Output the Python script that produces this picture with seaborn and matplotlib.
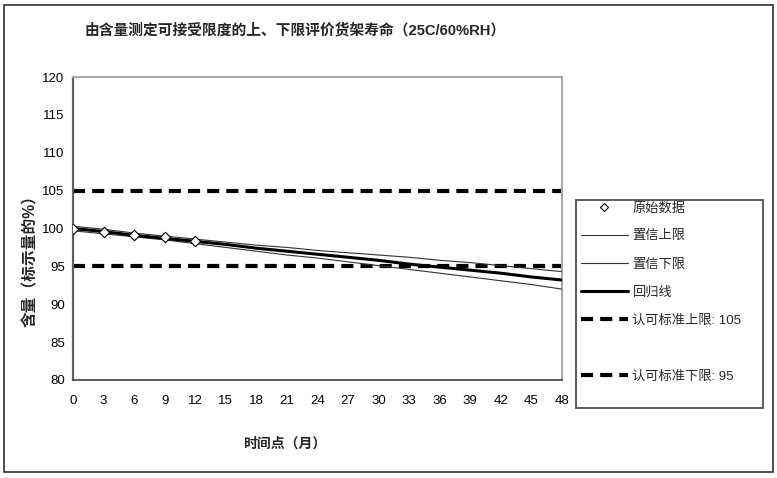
import matplotlib
matplotlib.use("Agg")
import matplotlib.pyplot as plt
import seaborn as sns
import pandas as pd
from matplotlib.lines import Line2D
from matplotlib.patches import Rectangle

# ---- data ----
raw_months = [0, 3, 6, 9, 12]
raw_values = [100.0, 99.6, 99.1, 98.9, 98.4]

months = [0, 3, 6, 9, 12, 15, 18, 21, 24, 27, 30, 33, 36, 39, 42, 45, 48]
regression = [100.0, 99.6, 99.1, 98.7, 98.3, 97.9, 97.4, 97.0, 96.6, 96.2, 95.8, 95.3, 94.9, 94.5, 94.1, 93.6, 93.2]
upper_ci = [100.3, 99.9, 99.4, 99.0, 98.6, 98.2, 97.8, 97.5, 97.1, 96.8, 96.5, 96.2, 95.8, 95.5, 95.1, 94.7, 94.3]
lower_ci = [99.7, 99.3, 98.9, 98.5, 98.0, 97.5, 97.0, 96.5, 96.1, 95.6, 95.1, 94.6, 94.1, 93.6, 93.1, 92.6, 92.0]
spec_upper = 105
spec_lower = 95

title = "由含量测定可接受限度的上、下限评价货架寿命（25C/60%RH）"
xlabel = "时间点（月）"
ylabel = "含量（标示量的%）"
legend_labels = ["原始数据", "置信上限", "置信下限", "回归线", "认可标准上限: 105", "认可标准下限: 95"]
xticks = list(range(0, 49, 3))
yticks = list(range(80, 121, 5))

sns.set_style("white")
plt.rcParams['font.family'] = ['Liberation Sans', 'Noto Sans CJK SC', 'DejaVu Sans']

df_raw = pd.DataFrame({"t": raw_months, "v": raw_values})
df_line = pd.DataFrame({"t": months, "reg": regression, "up": upper_ci, "lo": lower_ci})

W, H = 777, 478
fig = plt.figure(figsize=(W/100, H/100), dpi=100)
ax = fig.add_axes([73/W, 1-380/H, (562-73)/W, (380-77)/H])

dash = (2.9, 1.7)
ax.axhline(spec_upper, color="black", lw=3, dashes=dash, zorder=2)
ax.axhline(spec_lower, color="black", lw=3, dashes=dash, zorder=2)

sns.lineplot(data=df_line, x="t", y="up", ax=ax, color="#333333", lw=0.8, zorder=3)
sns.lineplot(data=df_line, x="t", y="lo", ax=ax, color="#333333", lw=0.8, zorder=3)
sns.lineplot(data=df_line, x="t", y="reg", ax=ax, color="black", lw=2.2, zorder=4)
sns.scatterplot(data=df_raw, x="t", y="v", ax=ax, marker="D", s=28, facecolor="white",
                edgecolor="black", linewidth=0.8, zorder=5)

ax.set_xlim(0, 48)
ax.set_ylim(80, 120)
ax.set_xticks(xticks)
ax.set_yticks(yticks)
ax.tick_params(axis="x", direction="inout", length=7, width=0.8, labelsize=9.5, pad=7, colors="black")
ax.tick_params(axis="y", direction="out", length=4, width=0.8, labelsize=9.5, pad=2, colors="black")
ax.set_xlabel(xlabel, fontsize=10, fontweight="bold")
ax.xaxis.set_label_coords((285-73)/(562-73), -(437-380)/(380-77))
ax.set_ylabel(ylabel, fontsize=11.3, fontweight="bold")
ax.yaxis.set_label_coords((38-73)/(562-73), (380-257)/(380-77))

for side in ["top", "right"]:
    ax.spines[side].set_color("#a8a8a8")
    ax.spines[side].set_linewidth(1.5)
ax.spines["left"].set_color("#606060")
ax.spines["left"].set_linewidth(1.6)
ax.spines["bottom"].set_color("#404040")
ax.spines["bottom"].set_linewidth(1.2)

fig.text(85/W, 1-30/H, title, fontsize=10.6, fontweight="bold", va="center", ha="left")

handles = [
    Line2D([], [], marker="D", ls="none", markerfacecolor="white", markeredgecolor="black", markersize=4.5, markeredgewidth=0.8),
    Line2D([], [], color="#333333", lw=0.8),
    Line2D([], [], color="#333333", lw=0.8),
    Line2D([], [], color="black", lw=2.2),
    Line2D([], [], color="black", lw=3, dashes=dash),
    Line2D([], [], color="none"),
    Line2D([], [], color="black", lw=3, dashes=dash),
]
labels = legend_labels[:5] + [" "] + legend_labels[5:]
leg = fig.legend(handles, labels, loc="upper left", bbox_to_anchor=(577/W, 1-198/H),
                 frameon=False, fontsize=9.5, handlelength=3.55,
                 handletextpad=0.35, labelspacing=1.2, borderpad=0.3, borderaxespad=0)

fig.patches.append(Rectangle((576/W, 1-408/H), (763-576)/W, (408-200)/H, transform=fig.transFigure,
                             fill=False, edgecolor="#404040", lw=1.2))
fig.patches.append(Rectangle((4/W, 1-472/H), 769/W, 467/H, transform=fig.transFigure,
                             fill=False, edgecolor="#303030", lw=1.2))

fig.savefig("out.png", dpi=100)
